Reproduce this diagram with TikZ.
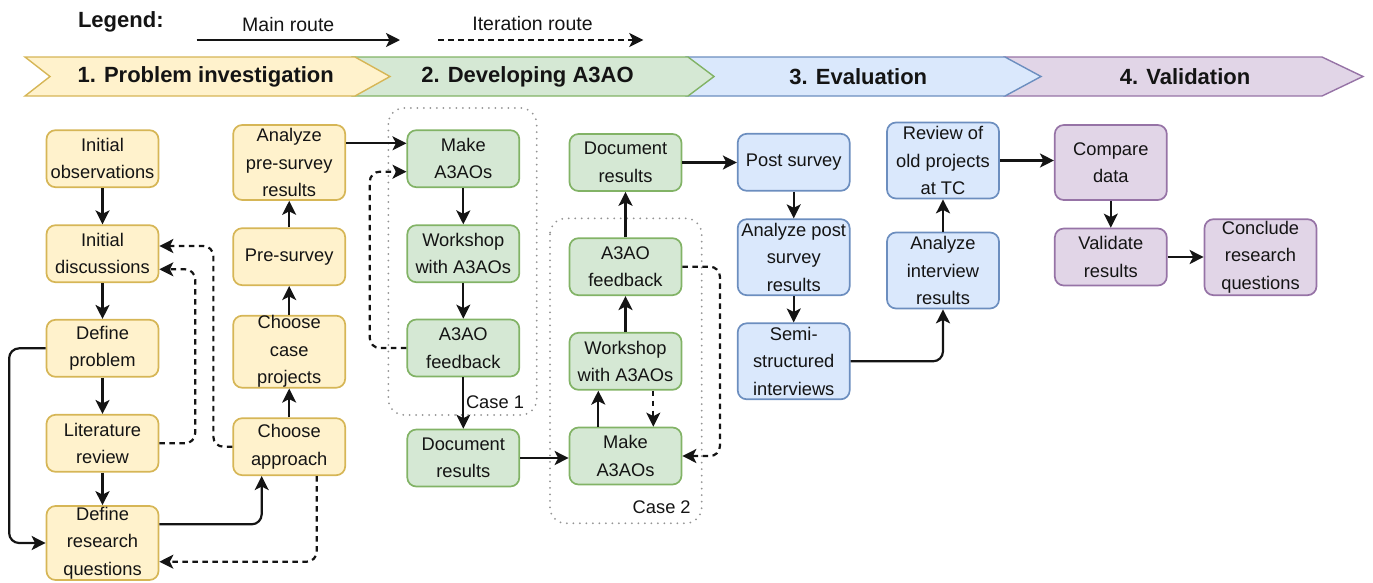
\documentclass[tikz,border=0pt]{standalone}
\usepackage{fontspec}
\setmainfont{Liberation Sans}
\usetikzlibrary{arrows.meta}

\definecolor{yfill}{HTML}{FFF2CC}\definecolor{ydraw}{HTML}{D6B656}
\definecolor{gfill}{HTML}{D5E8D4}\definecolor{gdraw}{HTML}{82B366}
\definecolor{bfill}{HTML}{DAE8FC}\definecolor{bdraw}{HTML}{6C8EBF}
\definecolor{pfill}{HTML}{E1D5E7}\definecolor{pdraw}{HTML}{9673A6}
\definecolor{ink}{HTML}{141414}

\newcommand\boxfont{\fontsize{18.3}{27.5}\selectfont}
\newcommand\headfont{\fontsize{22}{26}\selectfont\bfseries}
\newcommand\legfont{\fontsize{19.5}{23}\selectfont}

\begin{document}
\begin{tikzpicture}[x=1pt,y=1pt,
  box/.style={draw, rounded corners=9pt, line width=1.7pt, minimum width=112pt,
    minimum height=57pt, inner sep=0pt, align=center, font=\boxfont, text=ink},
  tall/.style={minimum height=75pt},
  ybox/.style={box, fill=yfill, draw=ydraw},
  gbox/.style={box, fill=gfill, draw=gdraw},
  bbox/.style={box, fill=bfill, draw=bdraw},
  pbox/.style={box, fill=pfill, draw=pdraw},
  main/.style={line width=2.2pt, draw=ink, rounded corners=10pt,
    -{Stealth[length=14pt,width=14pt,inset=3.5pt]}},
  iter/.style={main, dash pattern=on 5.5pt off 4.5pt},
  chev/.style={line width=1.4pt, line join=miter},
  casebox/.style={draw=gray!85, line width=2pt, dash pattern=on 0pt off 6.5pt,
    line cap=round, rounded corners=16pt},
  lbl/.style={inner sep=0pt, text=ink},
]
\useasboundingbox (0,0) rectangle (1373,-582);

% ---- legend ----
\node[lbl, font=\headfont] (leg) at (120.8,-21.7) {Legend:};
\node[lbl, font=\legfont] (legmain) at (288.3,-24.5) {Main route};
\node[lbl, font=\legfont] (legiter) at (532.5,-23.3) {Iteration route};
\coordinate (ma) at (196.7,-40);
\coordinate (mb) at (400,-40);
\coordinate (ia) at (438.3,-40);
\coordinate (ib) at (643.3,-40);
\draw[main] (ma) -- (mb);
\draw[iter] (ia) -- (ib);

% ---- phase chevrons (later phases first, so each tip lies on the next) ----
\draw[chev, fill=pfill, draw=pdraw] (1005,-57) -- (1322,-57) -- (1363,-76.5) -- (1322,-96) -- (1005,-96) -- (1030,-76.5) -- cycle;
\draw[chev, fill=bfill, draw=bdraw] (687,-57) -- (1005,-57) -- (1041,-76.5) -- (1005,-96) -- (687,-96) -- (712,-76.5) -- cycle;
\draw[chev, fill=gfill, draw=gdraw] (353,-57) -- (688,-57) -- (714,-76.5) -- (688,-96) -- (353,-96) -- (378,-76.5) -- cycle;
\draw[chev, fill=yfill, draw=ydraw] (25,-57) -- (355,-57) -- (390,-76.5) -- (355,-96) -- (25,-96) -- (50,-76.5) -- cycle;
\node[lbl, font=\headfont] (ph1) at (205.7,-76.5) {1. Problem investigation};
\node[lbl, font=\headfont] (ph2) at (527.5,-76.5) {2. Developing A3AO};
\node[lbl, font=\headfont] (ph3) at (858.3,-76.5) {3. Evaluation};
\node[lbl, font=\headfont] (ph4) at (1185,-76.5) {4. Validation};

% ---- case containers ----
\draw[casebox] (388.3,-108) rectangle (536.7,-415);
\draw[casebox] (550,-218.3) rectangle (701.7,-523.3);
\node[lbl, font=\boxfont] (case1) at (495,-401.7) {Case 1};
\node[lbl, font=\boxfont] (case2) at (661.7,-507.3) {Case 2};

% ---- problem investigation ----
\node[ybox] (obs) at (102.5,-158.7) {Initial\\observations};
\node[ybox] (disc) at (102.5,-253.7) {Initial\\discussions};
\node[ybox] (defprob) at (102.5,-348.3) {Define\\problem};
\node[ybox] (lit) at (102.5,-443.3) {Literature\\review};
\node[ybox, minimum height=74pt] (defrq) at (102.5,-543) {Define\\research\\questions};

\node[ybox, tall] (anpre) at (289.2,-162.5) {Analyze\\pre-survey\\results};
\node[ybox] (presurvey) at (289.2,-256.7) {Pre-survey};
\node[ybox, minimum height=71pt] (choosecase) at (289.2,-351.7) {Choose\\case\\projects};
\node[ybox] (approach) at (289.2,-446.7) {Choose\\approach};

% ---- developing A3AO ----
\node[gbox] (make1) at (463.3,-158.7) {Make\\A3AOs};
\node[gbox] (ws1) at (463.3,-253.7) {Workshop\\with A3AOs};
\node[gbox] (fb1) at (463.3,-348) {A3AO\\feedback};
\node[gbox] (doc1) at (463.3,-458) {Document\\results};

\node[gbox] (doc2) at (625.5,-162.5) {Document\\results};
\node[gbox] (fb2) at (625.5,-266.7) {A3AO\\feedback};
\node[gbox] (ws2) at (625.5,-361.3) {Workshop\\with A3AOs};
\node[gbox] (make2) at (625.5,-456) {Make\\A3AOs};

% ---- evaluation ----
\node[bbox] (post) at (793.7,-162.3) {Post survey};
\node[bbox, minimum height=76pt] (anpost) at (793.7,-257.2) {Analyze post\\survey\\results};
\node[bbox, minimum height=76pt] (semi) at (793.7,-361.3) {Semi-\\structured\\interviews};
\node[bbox, minimum height=76pt] (review) at (943,-160.5) {Review of\\old projects\\at TC};
\node[bbox, minimum height=76pt] (anint) at (943,-270.5) {Analyze\\interview\\results};

% ---- validation ----
\node[pbox, tall] (compare) at (1110.8,-162.5) {Compare\\data};
\node[pbox] (validate) at (1110.8,-257) {Validate\\results};
\node[pbox, minimum height=76pt] (conclude) at (1260.5,-257.2) {Conclude\\research\\questions};

% ---- main route ----
\draw[main] (obs) -- (disc);
\draw[main] (disc) -- (defprob);
\draw[main] (defprob) -- (lit);
\draw[main] (lit) -- (defrq);
\draw[main] (defprob.west) -- ++(-36.5,0) |- (defrq.west);
\draw[main] ([yshift=18.7pt]defrq.east) -| ([xshift=-27.5pt]approach.south);
\draw[main] (approach) -- (choosecase);
\draw[main] (choosecase) -- (presurvey);
\draw[main] (presurvey) -- (anpre);
\draw[main] ([yshift=19.2pt]anpre.east) -- ([yshift=19.2pt]anpre.east -| make1.west);

\draw[main] (make1) -- (ws1);
\draw[main] (ws1) -- (fb1);
\draw[main] (fb1) -- (doc1);
\draw[main] (doc1.east) -- (doc1.east -| make2.west);
\draw[main] ([xshift=-27.2pt]make2.north) -- ([xshift=-27.2pt]ws2.south);
\draw[main] (ws2) -- (fb2);
\draw[main] (fb2) -- (doc2);
\draw[main] (doc2.east) -- (doc2.east -| post.west);

\draw[main] (post) -- (anpost);
\draw[main] (anpost) -- (semi);
\draw[main] (semi.east) -| (anint.south);
\draw[main] (anint) -- (review);
\draw[main] (review.east) -- (review.east -| compare.west);
\draw[main] (compare) -- (validate);
\draw[main] (validate.east) -- (validate.east -| conclude.west);

% ---- iteration route ----
\draw[iter] (lit.east) -- ++(35.8,0) |- ([yshift=-15.6pt]disc.east);
\draw[iter] (approach.west) -- ++(-19,0) |- ([yshift=7.7pt]disc.east);
\draw[iter] ([xshift=27.5pt]approach.south) |- ([yshift=-18.7pt]defrq.east);
\draw[iter] (fb1.west) -- ++(-36.7,0) |- ([yshift=-13pt]make1.west);
\draw[iter] ([xshift=27.8pt]ws2.south) -- ([xshift=27.8pt]make2.north);
\draw[iter] (fb2.east) -- ++(37.6,0) |- (make2.east);
\end{tikzpicture}
\end{document}
